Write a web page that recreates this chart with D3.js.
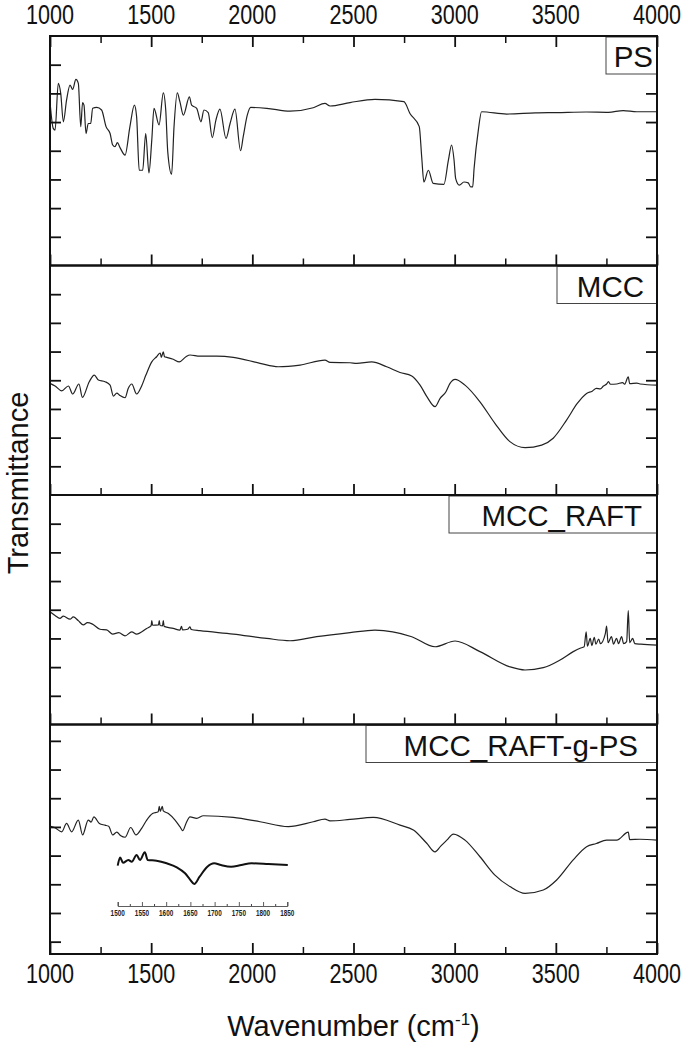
<!DOCTYPE html>
<html>
<head>
<meta charset="utf-8">
<script src="https://cdn.jsdelivr.net/npm/d3@7"></script>
<style>
body { margin: 0; background: #fff; }
svg { display: block; font-family: "Liberation Sans", Arial, sans-serif; }
</style>
</head>
<body>
<svg id="chart" width="685" height="1046"></svg>
<script>

// ---- data (transmittance in tick units, a.u.) ----
const wavenumberTicks = [1000, 1500, 2000, 2500, 3000, 3500, 4000]
const wavenumberMinor = [1250, 1750, 2250, 2750, 3250, 3750]
const panelNames = ['PS', 'MCC', 'MCC_RAFT', 'MCC_RAFT-g-PS']
const yTicksUpper = [1, 2, 3, 4, 5, 6, 7]
const yTicksLower = [0.43, 1.43, 2.43, 3.43, 4.43, 5.43, 6.43, 7.43]

const psSpectrum = [[1000,5.71],[1016,4.78],[1025,4.72],[1041,6.35],[1053,6.0],[1066,5.01],[1082,5.77],[1099,6.29],[1112,6.14],[1128,6.49],[1140,6.35],[1152,4.84],[1161,5.68],[1168,5.59],[1178,4.60],[1189,4.95],[1201,4.95],[1211,5.48],[1231,5.51],[1255,5.42],[1277,4.84],[1297,4.60],[1310,4.20],[1321,4.14],[1333,4.28],[1346,4.11],[1371,3.85],[1395,4.84],[1417,5.59],[1428,5.19],[1441,3.32],[1458,3.32],[1473,4.60],[1489,3.23],[1503,4.37],[1514,5.48],[1539,4.90],[1560,6.02],[1572,5.42],[1582,3.96],[1601,3.18],[1613,4.84],[1629,6.02],[1642,5.71],[1659,5.24],[1689,5.88],[1700,5.59],[1725,5.48],[1746,5.01],[1761,5.42],[1782,5.33],[1802,4.46],[1820,5.07],[1840,5.45],[1870,4.43],[1890,4.95],[1914,5.45],[1942,4.0],[1955,4.49],[1975,5.24],[1992,5.51],[2071,5.48],[2186,5.38],[2301,5.50],[2359,5.65],[2384,5.56],[2483,5.68],[2606,5.79],[2749,5.71],[2779,5.30],[2825,4.84],[2837,3.79],[2848,2.91],[2870,3.32],[2894,2.86],[2947,2.83],[2969,3.67],[2985,4.20],[2997,3.67],[3005,3.03],[3023,2.80],[3046,2.91],[3067,2.88],[3079,2.74],[3089,2.74],[3096,3.38],[3117,4.72],[3133,5.36],[3257,5.28],[3400,5.32],[3504,5.33],[3650,5.35],[3760,5.34],[3833,5.40],[3900,5.36],[4000,5.36]]

const mccSpectrum = [[1000,3.89],[1025,3.80],[1058,3.63],[1091,3.80],[1112,3.52],[1143,3.87],[1160,3.40],[1194,3.95],[1219,4.18],[1239,4.01],[1272,3.95],[1297,3.83],[1313,3.45],[1330,3.55],[1345,3.47],[1371,3.39],[1387,3.72],[1404,3.87],[1428,3.52],[1453,3.80],[1474,4.18],[1503,4.64],[1527,4.82],[1545,4.95],[1550,4.80],[1560,4.99],[1566,4.82],[1577,4.80],[1609,4.73],[1639,4.64],[1672,4.82],[1692,4.88],[1741,4.84],[1824,4.84],[1906,4.80],[2038,4.59],[2128,4.47],[2236,4.53],[2359,4.70],[2384,4.62],[2483,4.61],[2516,4.59],[2590,4.64],[2664,4.47],[2730,4.27],[2788,4.15],[2829,3.83],[2865,3.40],[2903,3.08],[2928,3.37],[2957,3.60],[2977,3.89],[3002,4.03],[3051,3.83],[3125,3.25],[3199,2.50],[3273,1.86],[3348,1.65],[3430,1.74],[3487,1.98],[3553,2.61],[3606,3.19],[3652,3.54],[3680,3.62],[3700,3.72],[3720,3.70],[3735,3.80],[3751,3.87],[3760,3.95],[3770,3.86],[3801,3.87],[3830,3.92],[3840,3.86],[3858,4.12],[3865,3.88],[3900,3.90],[3916,3.87],[4000,3.83]]

const raftSpectrum = [[1000,3.93],[1025,3.80],[1049,3.70],[1066,3.78],[1099,3.67],[1115,3.75],[1140,3.62],[1165,3.47],[1185,3.55],[1210,3.50],[1247,3.32],[1280,3.30],[1310,3.15],[1340,3.20],[1371,3.09],[1404,3.23],[1428,3.15],[1478,3.35],[1500,3.45],[1503,3.62],[1507,3.46],[1536,3.47],[1540,3.62],[1544,3.45],[1556,3.44],[1560,3.62],[1564,3.42],[1609,3.35],[1642,3.29],[1650,3.42],[1655,3.30],[1680,3.32],[1692,3.40],[1698,3.31],[1741,3.27],[1906,3.15],[2071,3.0],[2186,2.92],[2318,3.06],[2483,3.20],[2606,3.29],[2788,3.06],[2903,2.71],[3002,2.91],[3125,2.54],[3273,2.01],[3348,1.90],[3438,1.98],[3521,2.25],[3586,2.54],[3620,2.66],[3640,2.71],[3650,3.23],[3656,2.73],[3670,3.0],[3678,2.75],[3690,3.04],[3698,2.80],[3712,2.98],[3720,2.82],[3745,3.18],[3751,3.43],[3758,2.85],[3775,3.06],[3785,2.80],[3800,3.0],[3810,2.82],[3825,3.06],[3835,2.82],[3850,2.89],[3858,3.97],[3865,2.85],[3880,3.0],[3890,2.82],[3920,2.80],[4000,2.77]]

const graftSpectrum = [[1000,4.46],[1025,4.40],[1058,4.26],[1082,4.55],[1107,4.26],[1140,4.67],[1161,4.15],[1189,4.67],[1203,4.60],[1217,4.78],[1244,4.55],[1272,4.49],[1290,4.45],[1310,4.15],[1330,4.25],[1350,4.12],[1371,4.07],[1399,4.41],[1425,4.15],[1453,4.38],[1478,4.67],[1507,4.90],[1535,4.96],[1540,5.15],[1545,4.97],[1555,5.15],[1560,4.99],[1585,4.90],[1618,4.67],[1642,4.44],[1656,4.30],[1672,4.55],[1692,4.78],[1725,4.73],[1758,4.82],[1906,4.76],[2038,4.61],[2178,4.44],[2301,4.61],[2359,4.70],[2384,4.64],[2483,4.69],[2598,4.76],[2730,4.49],[2796,4.32],[2862,3.86],[2903,3.56],[2930,3.75],[2961,3.97],[2994,4.18],[3051,3.97],[3125,3.39],[3199,2.75],[3273,2.35],[3348,2.11],[3438,2.23],[3504,2.58],[3586,3.28],[3652,3.74],[3700,3.85],[3751,3.97],[3801,3.97],[3858,4.25],[3865,3.99],[3916,4.0],[4000,3.97]]

// inset, 1500-1850 cm-1
const insetTicks = [1500, 1550, 1600, 1650, 1700, 1750, 1800, 1850]
const insetMinor = [1525, 1575, 1625, 1675, 1725, 1775, 1825]
const insetSpectrum = [[1500,6.72],[1505,8.1],[1511,7.2],[1522,7.67],[1529,7.38],[1539,8.5],[1546,7.67],[1556,8.95],[1562,7.67],[1580,7.55],[1601,7.12],[1622,6.45],[1639,5.45],[1649,4.45],[1658,3.67],[1669,4.88],[1685,6.55],[1699,7.12],[1713,6.83],[1734,6.55],[1755,6.83],[1776,7.12],[1811,7.0],[1851,6.83]]

// ---- layout ----
const frameLeft = 50, frameRight = 657, frameTop = 36, frameBottom = 954
const panelHeight = (frameBottom - frameTop) / 4
const boxWidth = [51, 100, 208, 291]
const boxTextInset = [4, 13, 15, 19]

svg = d3.select('#chart')

x = d3.scaleLinear().domain([1000, 4000]).range([frameLeft, frameRight])

spectra = [psSpectrum, mccSpectrum, raftSpectrum, graftSpectrum]
yTickSets = [yTicksUpper, yTicksUpper, yTicksUpper, yTicksLower]

function tick_style(sel, w) {
	sel.select('.domain').remove()
	sel.selectAll('line').attr('stroke', '#111').attr('stroke-width', w)
}

spectra.forEach(function(spec, i) {
	top_y = frameTop + i * panelHeight
	bottom_y = top_y + panelHeight

	y = d3.scaleLinear().domain([0, 8]).range([bottom_y, top_y])

	g = svg.append('g').attr('class', 'panel')

	g.append('path')
		.datum(spec)
		.attr('d', d3.line()
			.x(function(d) {return x(d[0])})
			.y(function(d) {return y(d[1])})
			.curve(d3.curveMonotoneX))
		.attr('fill', 'none')
		.attr('stroke', '#222')
		.attr('stroke-width', 1.2)

	// x ticks pointing up from the bottom of every panel
	g.append('g')
		.attr('transform', 'translate(0,' + bottom_y + ')')
		.call(d3.axisBottom(x).tickValues(wavenumberTicks).tickSizeInner(-11).tickSizeOuter(0).tickFormat(''))
		.call(tick_style, 1.8)
	g.append('g')
		.attr('transform', 'translate(0,' + bottom_y + ')')
		.call(d3.axisBottom(x).tickValues(wavenumberMinor).tickSizeInner(-7).tickSizeOuter(0).tickFormat(''))
		.call(tick_style, 1.5)

	if (i == 0) {
		g.append('g')
			.attr('transform', 'translate(0,' + top_y + ')')
			.call(d3.axisTop(x).tickValues(wavenumberTicks).tickSizeInner(-11).tickSizeOuter(0).tickFormat(''))
			.call(tick_style, 1.8)
		g.append('g')
			.attr('transform', 'translate(0,' + top_y + ')')
			.call(d3.axisTop(x).tickValues(wavenumberMinor).tickSizeInner(-7).tickSizeOuter(0).tickFormat(''))
			.call(tick_style, 1.5)
	}

	g.append('g')
		.attr('transform', 'translate(' + frameLeft + ',0)')
		.call(d3.axisLeft(y).tickValues(yTickSets[i]).tickSizeInner(-11).tickSizeOuter(0).tickFormat(''))
		.call(tick_style, 1.8)
	g.append('g')
		.attr('transform', 'translate(' + frameRight + ',0)')
		.call(d3.axisRight(y).tickValues(yTickSets[i]).tickSizeInner(-11).tickSizeOuter(0).tickFormat(''))
		.call(tick_style, 1.8)

	// name box in the upper right corner
	g.append('rect')
		.attr('x', frameRight - boxWidth[i])
		.attr('y', top_y + 1)
		.attr('width', boxWidth[i])
		.attr('height', 37)
		.attr('fill', '#fff')
		.attr('stroke', '#444')
		.attr('stroke-width', 1)
	g.append('text')
		.attr('x', frameRight - boxTextInset[i])
		.attr('y', top_y + 31)
		.attr('text-anchor', 'end')
		.style('font-size', '29.5px')
		.attr('fill', '#111')
		.text(panelNames[i])

	g.append('rect')
		.attr('x', frameLeft)
		.attr('y', top_y)
		.attr('width', frameRight - frameLeft)
		.attr('height', panelHeight)
		.attr('fill', 'none')
		.attr('stroke', '#111')
		.attr('stroke-width', 2)
})

// tick labels, top and bottom (narrow face)
wavenumberTicks.forEach(function(v) {
	svg.append('text')
		.attr('transform', 'translate(' + x(v) + ',24) scale(0.8,1)')
		.attr('text-anchor', 'middle')
		.style('font-size', '27px')
		.attr('fill', '#111')
		.text(v)
	svg.append('text')
		.attr('transform', 'translate(' + x(v) + ',983) scale(0.8,1)')
		.attr('text-anchor', 'middle')
		.style('font-size', '27px')
		.attr('fill', '#111')
		.text(v)
})

// axis titles
xt = svg.append('text')
	.attr('x', (frameLeft + frameRight) / 2)
	.attr('y', 1036)
	.attr('text-anchor', 'middle')
	.style('font-size', '29px')
	.attr('fill', '#111')
xt.append('tspan').text('Wavenumber (cm')
xt.append('tspan').attr('dy', -11).style('font-size', '17px').text('-1')
xt.append('tspan').attr('dy', 11).text(')')

svg.append('text')
	.attr('transform', 'translate(28,483) rotate(-90)')
	.attr('text-anchor', 'middle')
	.style('font-size', '29px')
	.attr('fill', '#111')
	.text('Transmittance')

// inset in the lowest panel
xi = d3.scaleLinear().domain([1500, 1850]).range([117.7, 287.3])
yi = d3.scaleLinear().domain([0, 10]).range([906, 846])

svg.append('path')
	.datum(insetSpectrum)
	.attr('d', d3.line()
		.x(function(d) {return xi(d[0])})
		.y(function(d) {return yi(d[1])})
		.curve(d3.curveMonotoneX))
	.attr('fill', 'none')
	.attr('stroke', '#111')
	.attr('stroke-width', 2)

gi = svg.append('g').attr('transform', 'translate(0,906)')
gi.call(d3.axisBottom(xi).tickValues(insetTicks).tickSizeInner(-4).tickSizeOuter(-4).tickFormat(''))
gi.select('.domain').attr('stroke', '#333').attr('stroke-width', 0.8)
gi.selectAll('line').attr('stroke', '#333').attr('stroke-width', 0.8)
svg.append('g')
	.attr('transform', 'translate(0,906)')
	.call(d3.axisBottom(xi).tickValues(insetMinor).tickSizeInner(-2).tickSizeOuter(0).tickFormat(''))
	.call(tick_style, 0.8)

insetTicks.forEach(function(v) {
	svg.append('text')
		.attr('transform', 'translate(' + xi(v) + ',916) scale(0.75,1)')
		.attr('text-anchor', 'middle')
		.style('font-size', '8.5px')
		.style('font-weight', 'bold')
		.attr('fill', '#222')
		.text(v)
})

</script>
</body>
</html>
